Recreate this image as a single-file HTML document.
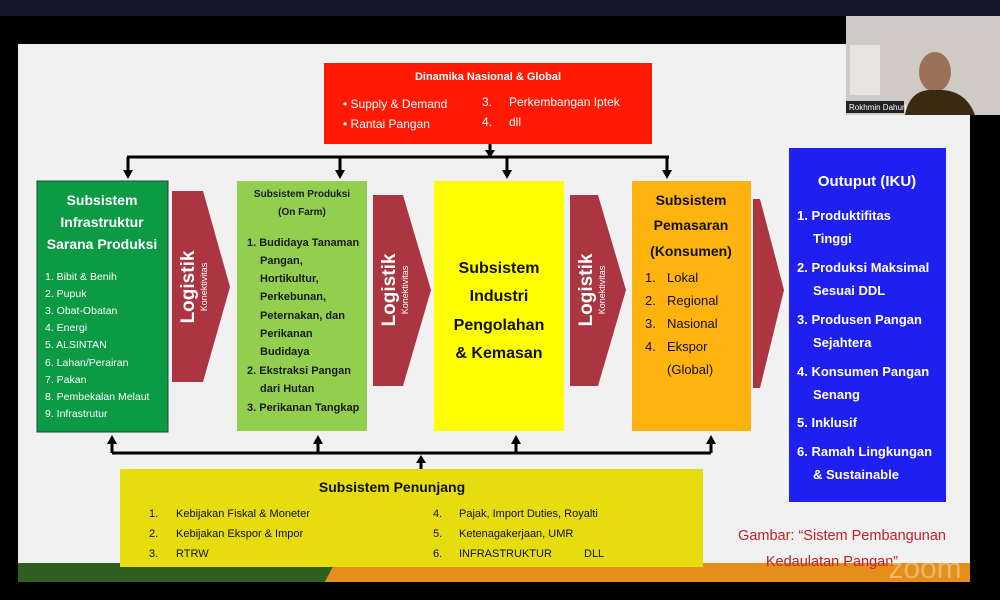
<!DOCTYPE html>
<html><head><meta charset="utf-8"><style>
html,body{margin:0;padding:0;background:#000;}
svg{display:block;}
text{font-family:"Liberation Sans",sans-serif;}
</style></head><body>
<svg width="1000" height="600" viewBox="0 0 1000 600" xmlns="http://www.w3.org/2000/svg">
<rect width="1000" height="600" fill="#000"/>
<rect width="1000" height="16" fill="#14162a"/>
<rect x="18" y="44" width="952" height="538" fill="#f1f1f1"/>
<polygon points="18,563 335,563 325,582 18,582" fill="#2f5f1e"/>
<polygon points="335,563 970,563 970,582 325,582" fill="#e58f1a"/>
<rect x="846" y="16" width="154" height="99" fill="#cfcac4"/>
<rect x="850" y="45" width="30" height="50" fill="#e6e4e0"/>
<ellipse cx="935" cy="72" rx="16" ry="20" fill="#9a7058"/>
<path d="M905,115 Q910,88 935,90 Q965,88 975,115 Z" fill="#3a2a12"/>
<rect x="846" y="101" width="58" height="12" fill="#222"/>
<text x="849" y="110" font-size="8" fill="#fff">Rokhmin Dahuri</text>

<rect x="324" y="63" width="328" height="81" fill="#ff1a05"/>
<text x="488" y="80" font-size="11" font-weight="bold" fill="#fff" text-anchor="middle">Dinamika Nasional &amp; Global</text>
<g font-size="12" fill="#fff">
<text x="343" y="108">•  Supply &amp; Demand</text>
<text x="343" y="128">•  Rantai Pangan</text>
<text x="482" y="106">3.</text><text x="509" y="106">Perkembangan Iptek</text>
<text x="482" y="126">4.</text><text x="509" y="126">dll</text>
</g>
<g stroke="#000" stroke-width="3" fill="none">
<line x1="490" y1="144" x2="490" y2="156"/>
<line x1="127" y1="157" x2="669" y2="157"/>
<line x1="128" y1="157" x2="128" y2="172"/>
<line x1="340" y1="157" x2="340" y2="172"/>
<line x1="507" y1="157" x2="507" y2="172"/>
<line x1="667" y1="157" x2="667" y2="172"/>
</g>
<g fill="#000">
<polygon points="485,150 495,150 490,158"/>
<polygon points="123,170 133,170 128,179"/>
<polygon points="335,170 345,170 340,179"/>
<polygon points="502,170 512,170 507,179"/>
<polygon points="662,170 672,170 667,179"/>
</g>

<rect x="37" y="181" width="131" height="251" fill="#0c9a44" stroke="#244" stroke-width="1"/>
<g font-size="14" font-weight="bold" fill="#fff" text-anchor="middle">
<text x="102" y="205">Subsistem</text>
<text x="102" y="227">Infrastruktur</text>
<text x="102" y="249">Sarana Produksi</text>
</g>
<g font-size="10.5" fill="#fff">
<text x="45" y="280">1.  Bibit &amp; Benih</text>
<text x="45" y="297">2.  Pupuk</text>
<text x="45" y="314">3.  Obat-Obatan</text>
<text x="45" y="331">4.  Energi</text>
<text x="45" y="348">5.  ALSINTAN</text>
<text x="45" y="366">6.  Lahan/Perairan</text>
<text x="45" y="383">7.  Pakan</text>
<text x="45" y="400">8.  Pembekalan Melaut</text>
<text x="45" y="417">9.  Infrastrutur</text>
</g>

<g fill="#ab3540">
<polygon points="172,191 203,191 230,287 203,382 172,382"/>
<polygon points="373,195 403,195 431,290 403,386 373,386"/>
<polygon points="570,195 598,195 626,290 598,386 570,386"/>
<polygon points="753,199 760,199 784,290 760,388 753,388"/>
</g>
<g fill="#fff">
<text transform="translate(194,287) rotate(-90)" font-size="19" font-weight="bold" text-anchor="middle">Logistik</text>
<text transform="translate(207,287) rotate(-90)" font-size="9" text-anchor="middle">Konektivitas</text>
<text transform="translate(395,290) rotate(-90)" font-size="19" font-weight="bold" text-anchor="middle">Logistik</text>
<text transform="translate(408,290) rotate(-90)" font-size="9" text-anchor="middle">Konektivitas</text>
<text transform="translate(592,290) rotate(-90)" font-size="19" font-weight="bold" text-anchor="middle">Logistik</text>
<text transform="translate(605,290) rotate(-90)" font-size="9" text-anchor="middle">Konektivitas</text>
</g>

<rect x="237" y="181" width="130" height="250" fill="#92cf4e"/>
<g font-size="10" font-weight="bold" fill="#1a1a1a" text-anchor="middle">
<text x="302" y="197">Subsistem Produksi</text>
<text x="302" y="215">(On Farm)</text>
</g>
<g font-size="11" font-weight="600" fill="#1a1a1a">
<text x="247" y="246">1. Budidaya Tanaman</text>
<text x="260" y="264">Pangan,</text>
<text x="260" y="282">Hortikultur,</text>
<text x="260" y="300">Perkebunan,</text>
<text x="260" y="319">Peternakan, dan</text>
<text x="260" y="337">Perikanan</text>
<text x="260" y="355">Budidaya</text>
<text x="247" y="374">2. Ekstraksi Pangan</text>
<text x="260" y="392">dari Hutan</text>
<text x="247" y="411">3. Perikanan Tangkap</text>
</g>

<rect x="434" y="181" width="130" height="250" fill="#ffff00"/>
<g font-size="16" font-weight="bold" fill="#111" text-anchor="middle">
<text x="499" y="273">Subsistem</text>
<text x="499" y="301">Industri</text>
<text x="499" y="330">Pengolahan</text>
<text x="499" y="358">&amp; Kemasan</text>
</g>

<rect x="632" y="181" width="119" height="250" fill="#ffb30f"/>
<g font-size="14" font-weight="bold" fill="#111" text-anchor="middle">
<text x="691" y="205">Subsistem</text>
<text x="691" y="230">Pemasaran</text>
<text x="691" y="256">(Konsumen)</text>
</g>
<g font-size="13" fill="#111">
<text x="645" y="282">1.</text><text x="667" y="282">Lokal</text>
<text x="645" y="305">2.</text><text x="667" y="305">Regional</text>
<text x="645" y="328">3.</text><text x="667" y="328">Nasional</text>
<text x="645" y="351">4.</text><text x="667" y="351">Ekspor</text>
<text x="667" y="374">(Global)</text>
</g>

<rect x="789" y="148" width="157" height="354" fill="#1f1ff0"/>
<text x="867" y="186" font-size="15" font-weight="bold" fill="#fff" text-anchor="middle">Outuput (IKU)</text>
<g font-size="13" font-weight="bold" fill="#fff">
<text x="797" y="220">1. Produktifitas</text>
<text x="813" y="243">Tinggi</text>
<text x="797" y="272">2. Produksi Maksimal</text>
<text x="813" y="295">Sesuai DDL</text>
<text x="797" y="324">3. Produsen Pangan</text>
<text x="813" y="347">Sejahtera</text>
<text x="797" y="376">4. Konsumen Pangan</text>
<text x="813" y="399">Senang</text>
<text x="797" y="427">5. Inklusif</text>
<text x="797" y="456">6. Ramah Lingkungan</text>
<text x="813" y="479">&amp; Sustainable</text>
</g>

<g stroke="#000" stroke-width="3" fill="none">
<line x1="112" y1="453" x2="711" y2="453"/>
<line x1="112" y1="453" x2="112" y2="442"/>
<line x1="318" y1="453" x2="318" y2="442"/>
<line x1="516" y1="453" x2="516" y2="442"/>
<line x1="711" y1="453" x2="711" y2="442"/>
<line x1="421" y1="470" x2="421" y2="462"/>
</g>
<g fill="#000">
<polygon points="107,444 117,444 112,435"/>
<polygon points="313,444 323,444 318,435"/>
<polygon points="511,444 521,444 516,435"/>
<polygon points="706,444 716,444 711,435"/>
<polygon points="416,463 426,463 421,455"/>
</g>

<rect x="120" y="469" width="583" height="98" fill="#e6dc10"/>
<text x="392" y="492" font-size="14" font-weight="bold" fill="#111" text-anchor="middle">Subsistem Penunjang</text>
<g font-size="11" fill="#111">
<text x="149" y="517">1.</text><text x="176" y="517">Kebijakan Fiskal &amp; Moneter</text>
<text x="149" y="537">2.</text><text x="176" y="537">Kebijakan Ekspor &amp; Impor</text>
<text x="149" y="557">3.</text><text x="176" y="557">RTRW</text>
<text x="433" y="517">4.</text><text x="459" y="517">Pajak, Import Duties, Royalti</text>
<text x="433" y="537">5.</text><text x="459" y="537">Ketenagakerjaan, UMR</text>
<text x="433" y="557">6.</text><text x="459" y="557">INFRASTRUKTUR</text><text x="584" y="557">DLL</text>
</g>

<g font-size="14.5" fill="#c0202a" text-anchor="middle">
<text x="842" y="540">Gambar: “Sistem Pembangunan</text>
<text x="832" y="566">Kedaulatan Pangan”</text>
</g>
<text x="925" y="578" font-size="30" fill="#ffffff" fill-opacity="0.35" text-anchor="middle">zoom</text>
</svg>
</body></html>
